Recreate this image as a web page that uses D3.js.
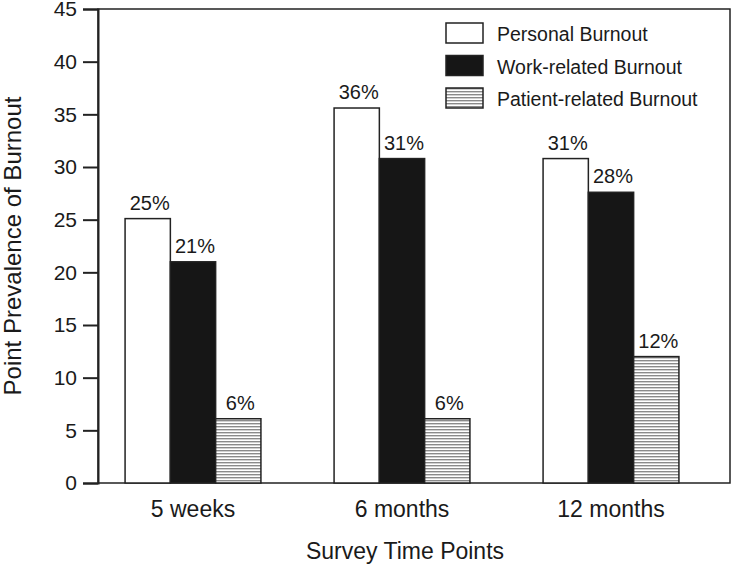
<!DOCTYPE html>
<html>
<head>
<meta charset="utf-8">
<script src="https://cdn.jsdelivr.net/npm/d3@7"></script>
<style>
  body { margin: 0; background: #fff; }
  text { font-family: "Liberation Sans", Arial, Helvetica, sans-serif; fill: #1a1a1a; }
</style>
</head>
<body>
<script>
var categories = ['5 weeks', '6 months', '12 months'];
var seriesNames = ['Personal Burnout', 'Work-related Burnout', 'Patient-related Burnout'];
var personal = [25.1, 35.6, 30.8];
var workRelated = [21, 30.8, 27.6];
var patientRelated = [6.1, 6.1, 12];
var valueLabels = [['25%', '21%', '6%'], ['36%', '31%', '6%'], ['31%', '28%', '12%']];
var yTicks = [0, 5, 10, 15, 20, 25, 30, 35, 40, 45];

var width = 731, height = 567;
// plot box (note: "top" is a reserved window prop, so prefixed names)
var plotLeft = 98, plotRight = 730, plotTop = 9, plotBottom = 483;

var svg = d3.select('body').append('svg')
    .attr('width', width)
    .attr('height', height);

// hatch for patient-related bars
var defs = svg.append('defs');
var pat = defs.append('pattern')
    .attr('id', 'hatch')
    .attr('patternUnits', 'userSpaceOnUse')
    .attr('width', 6)
    .attr('height', 3);
pat.append('rect').attr('width', 6).attr('height', 3).attr('fill', '#fff');
pat.append('rect').attr('y', 0).attr('width', 6).attr('height', 1.4).attr('fill', '#8a8a8a');

var y = d3.scaleLinear().domain([0, 45]).range([plotBottom, plotTop]);
var x0 = d3.scaleBand().domain(categories).range([88.5, 715.5])
    .paddingInner(0.35).paddingOuter(0.175);
var x1 = d3.scaleBand().domain(seriesNames).range([0, x0.bandwidth()]);

var fills = ['#fff', '#161616', 'url(#hatch)'];
var colour = d3.scaleOrdinal().domain(seriesNames).range(fills);

// frame
svg.append('rect')
    .attr('x', plotLeft).attr('y', plotTop)
    .attr('width', plotRight - plotLeft).attr('height', plotBottom - plotTop)
    .attr('fill', 'none').attr('stroke', '#222').attr('stroke-width', 1.5);

var rows = categories.map(function (c, i) {
  return {
    cat: c,
    vals: [personal[i], workRelated[i], patientRelated[i]].map(function (v, j) {
      return { name: seriesNames[j], value: v, label: valueLabels[i][j] };
    })
  };
});

var groups = svg.selectAll('g.grp')
    .data(rows)
    .enter().append('g')
    .attr('class', 'grp')
    .attr('transform', function (d) { return 'translate(' + x0(d.cat) + ',0)'; });

groups.selectAll('rect')
    .data(function (d) { return d.vals; })
    .enter().append('rect')
    .attr('x', function (d) { return x1(d.name); })
    .attr('y', function (d) { return y(d.value); })
    .attr('width', x1.bandwidth())
    .attr('height', function (d) { return y(0) - y(d.value); })
    .attr('fill', function (d) { return colour(d.name); })
    .attr('stroke', '#222')
    .attr('stroke-width', 1.5);

groups.selectAll('text.val')
    .data(function (d) { return d.vals; })
    .enter().append('text')
    .attr('class', 'val')
    .attr('x', function (d) { return x1(d.name) + x1.bandwidth() / 2 + 2; })
    .attr('y', function (d) { return y(d.value) - 9; })
    .attr('text-anchor', 'middle')
    .style('font-size', '20px')
    .text(function (d) { return d.label; });

// y axis
var yAxis = d3.axisLeft(y).tickValues(yTicks).tickSize(15).tickPadding(6);
var ya = svg.append('g')
    .attr('transform', 'translate(' + plotLeft + ',0)')
    .call(yAxis);
ya.select('.domain').attr('stroke', '#222').attr('stroke-width', 2);
ya.selectAll('.tick line').attr('stroke', '#222').attr('stroke-width', 2);
ya.selectAll('.tick text').style('font-size', '21px').attr('fill', '#1a1a1a')
    .style('font-family', '"Liberation Sans", Arial, sans-serif');

// x axis (labels only)
var xAxis = d3.axisBottom(x0).tickSize(0).tickPadding(18);
var xa = svg.append('g')
    .attr('transform', 'translate(0,' + plotBottom + ')')
    .call(xAxis);
xa.select('.domain').remove();
xa.selectAll('.tick text').style('font-size', '23px').attr('fill', '#1a1a1a')
    .style('font-family', '"Liberation Sans", Arial, sans-serif');

// axis titles
svg.append('text')
    .attr('x', 405).attr('y', 559)
    .attr('text-anchor', 'middle')
    .style('font-size', '23px')
    .text('Survey Time Points');

svg.append('text')
    .attr('transform', 'translate(21,' + ((plotTop + plotBottom) / 2) + ') rotate(-90)')
    .attr('text-anchor', 'middle')
    .style('font-size', '24px')
    .text('Point Prevalence of Burnout');

// legend
var legend = svg.append('g').attr('transform', 'translate(446,23)');
var items = legend.selectAll('g')
    .data(seriesNames)
    .enter().append('g')
    .attr('transform', function (d, i) { return 'translate(0,' + i * 32.5 + ')'; });
items.append('rect')
    .attr('width', 37).attr('height', 20)
    .attr('fill', function (d) { return colour(d); })
    .attr('stroke', '#222').attr('stroke-width', 1.5);
items.append('text')
    .attr('x', 51).attr('y', 18)
    .style('font-size', '19.5px')
    .text(function (d) { return d; });
</script>
</body>
</html>
